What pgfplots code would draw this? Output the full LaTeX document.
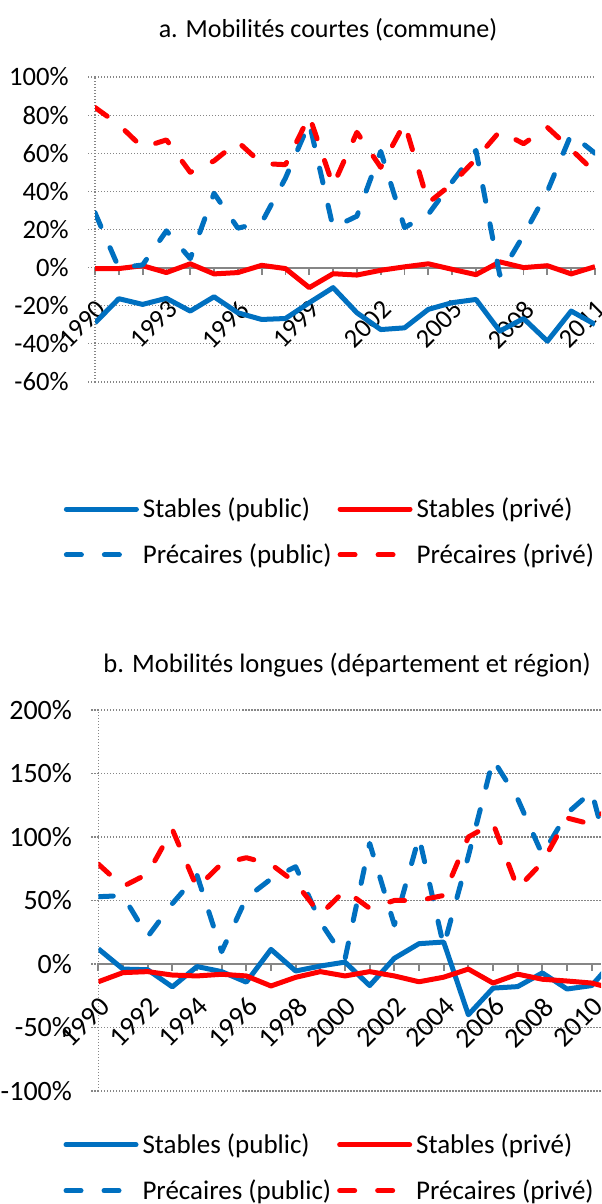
\documentclass[border=0pt]{standalone}
\usepackage{fontspec}
\setmainfont{Carlito}
\usepackage{pgfplots}
\pgfplotsset{compat=1.18}

\definecolor{xlblue}{RGB}{0,112,192}
\definecolor{xlred}{RGB}{255,0,0}
\definecolor{xlgray}{RGB}{134,134,134}

\newcommand\legfont{\fontsize{13.5}{16}\selectfont}

\pgfplotsset{
  excel/.style={
    scale only axis,
    axis x line=middle,
    axis y line=left,
    hide obscured x ticks=false,
    x axis line style={-, xlgray, line width=0.9pt},
    y axis line style={-, xlgray, line width=0.6pt, dash pattern=on 0.6pt off 0.9pt},
    ymajorgrids,
    grid style={xlgray, line width=0.6pt, dash pattern=on 0.6pt off 0.9pt},
    tick align=outside,
    major tick length=3.5pt, minor tick length=3.5pt,
    xtick style={xlgray, line width=0.9pt},
    ytick style={xlgray, line width=0.6pt, dash pattern=on 0.6pt off 0.9pt},
    xticklabel style={yshift=-12pt, rotate=45, anchor=north east, inner sep=0pt},
    yticklabel style={inner sep=0pt, xshift=-9.5pt},
    legend columns=2,
    legend cell align=left,
    legend style={draw=none, fill=none, font=\legfont, anchor=north west,
      inner sep=0pt, row sep=7.5pt,
      /tikz/every even column/.append style={column sep=1pt}},
    legend image code/.code={\draw[#1, line cap=round] (0pt,0pt) -- (35pt,0pt);},
    every axis plot/.append style={line width=2.5pt, line join=round},
  },
  stpub/.style={xlblue, solid},
  stpri/.style={xlred, solid},
  prpub/.style={xlblue, line cap=round, dash pattern=on 7.5pt off 11.5pt},
  prpri/.style={xlred, line cap=round, dash pattern=on 7.5pt off 11.5pt},
}

\begin{document}
\begin{tikzpicture}
\useasboundingbox (0,0) rectangle (300.5pt,602pt);

\node[font=\fontsize{13}{15}\selectfont] at (164pt,587pt) {a. Mobilités courtes (commune)};
\node[font=\fontsize{13.3}{15}\selectfont, anchor=west, inner sep=0pt] at (51.5pt,269.5pt) {b. Mobilités longues (département et région)};

% a. mobilites courtes
\begin{axis}[excel,
  at={(47.5pt,411pt)}, anchor=south west,
  width=250pt, height=152.5pt,
  tick label style={font=\fontsize{13.3}{15}\selectfont},
  xmin=1990, xmax=2011, ymin=-60, ymax=100,
  xtick={1990,1993,1996,1999,2002,2005,2008,2011},
  xticklabels={1990,1993,1996,1999,2002,2005,2008,2011},
  minor xtick={1990,...,2011},
  ytick={-60,-40,-20,0,20,40,60,80,100},
  yticklabels={-60\%,-40\%,-20\%,0\%,20\%,40\%,60\%,80\%,100\%},
  legend style={at={(axis description cs:-0.063,-0.365)}},
]
\addplot[stpub] coordinates {
 (1990,-29) (1991,-16.3) (1992,-19.3) (1993,-16.1) (1994,-22.8) (1995,-15.3)
 (1996,-23.7) (1997,-27.2) (1998,-26.7) (1999,-18.4) (2000,-10.5) (2001,-23.7)
 (2002,-32.5) (2003,-31.6) (2004,-21.9) (2005,-18.4) (2006,-16.7) (2007,-33.3)
 (2008,-26.7) (2009,-38.6) (2010,-22.8) (2011,-29.8)};
\addplot[stpri] coordinates {
 (1990,-0.5) (1991,-0.5) (1992,1) (1993,-2.6) (1994,2) (1995,-3.3)
 (1996,-2.6) (1997,1.2) (1998,-0.5) (1999,-10.5) (2000,-3.2) (2001,-3.9)
 (2002,-1.4) (2003,0.4) (2004,2) (2005,-0.9) (2006,-3.7) (2007,3)
 (2008,0) (2009,1) (2010,-3.3) (2011,0.5)};
\addplot[prpub] coordinates {
 (1990,28.8) (1991,-0.2) (1992,1.4) (1993,19.3) (1994,4.7) (1995,39)
 (1996,20.7) (1997,23.6) (1998,47) (1999,76) (2000,21) (2001,27)
 (2002,61) (2003,21) (2004,28) (2005,45) (2006,61.5) (2007,-4)
 (2008,17) (2009,40) (2010,70) (2011,60)};
\addplot[prpri] coordinates {
 (1990,84) (1991,75) (1992,63) (1993,67) (1994,50) (1995,56)
 (1996,66) (1997,54.6) (1998,54) (1999,79.6) (2000,43) (2001,71)
 (2002,52.6) (2003,75.7) (2004,34) (2005,44) (2006,57) (2007,71.5)
 (2008,65) (2009,73.6) (2010,62) (2011,50)};
\legend{Stables (public),Stables (privé),Précaires (public),Précaires (privé)}
\end{axis}

% b. mobilites longues
\begin{axis}[excel,
  at={(49.15pt,56.5pt)}, anchor=south west,
  width=251.35pt, height=190.5pt,
  tick label style={font=\fontsize{14}{16}\selectfont},
  xmin=1990, xmax=2010.377, ymin=-100, ymax=200,
  xtick={1990,1992,...,2010},
  xticklabels={1990,1992,1994,1996,1998,2000,2002,2004,2006,2008,2010},
  minor xtick={1990,...,2010},
  ytick={-100,-50,0,50,100,150,200},
  yticklabels={-100\%,-50\%,0\%,50\%,100\%,150\%,200\%},
  legend style={at={(axis description cs:-0.07,-0.1)}},
]
\addplot[stpub] coordinates {
 (1990,12) (1991,-4) (1992,-4.5) (1993,-18) (1994,-2) (1995,-6)
 (1996,-14.3) (1997,11.5) (1998,-5.5) (1999,-1.6) (2000,1.5) (2001,-17)
 (2002,4.5) (2003,16) (2004,17.3) (2005,-40) (2006,-19) (2007,-17.8)
 (2008,-7) (2009,-19.7) (2010,-17) (2011,5)};
\addplot[stpri] coordinates {
 (1990,-14) (1991,-6.8) (1992,-6) (1993,-8.7) (1994,-9.4) (1995,-8.1)
 (1996,-9.4) (1997,-17.3) (1998,-10.5) (1999,-6) (2000,-9.4) (2001,-6)
 (2002,-9.4) (2003,-14) (2004,-10.4) (2005,-4) (2006,-15) (2007,-8)
 (2008,-12) (2009,-13.4) (2010,-15) (2011,-20)};
\addplot[prpub] coordinates {
 (1990,53) (1991,53.8) (1992,21.5) (1993,47.5) (1994,70) (1995,9.7)
 (1996,52) (1997,67) (1998,76.6) (1999,33) (2000,4) (2001,95)
 (2002,30.7) (2003,100) (2004,14) (2005,85) (2006,161) (2007,130)
 (2008,86) (2009,118.6) (2010,135.7) (2011,63)};
\addplot[prpri] coordinates {
 (1990,78.7) (1991,61) (1992,71) (1993,106) (1994,60) (1995,79)
 (1996,83.7) (1997,78.5) (1998,64) (1999,39) (2000,58) (2001,43.8)
 (2002,50) (2003,50) (2004,54) (2005,100) (2006,110.8) (2007,59.6)
 (2008,80) (2009,115) (2010,110) (2011,130)};
\legend{Stables (public),Stables (privé),Précaires (public),Précaires (privé)}
\end{axis}
\end{tikzpicture}
\end{document}
